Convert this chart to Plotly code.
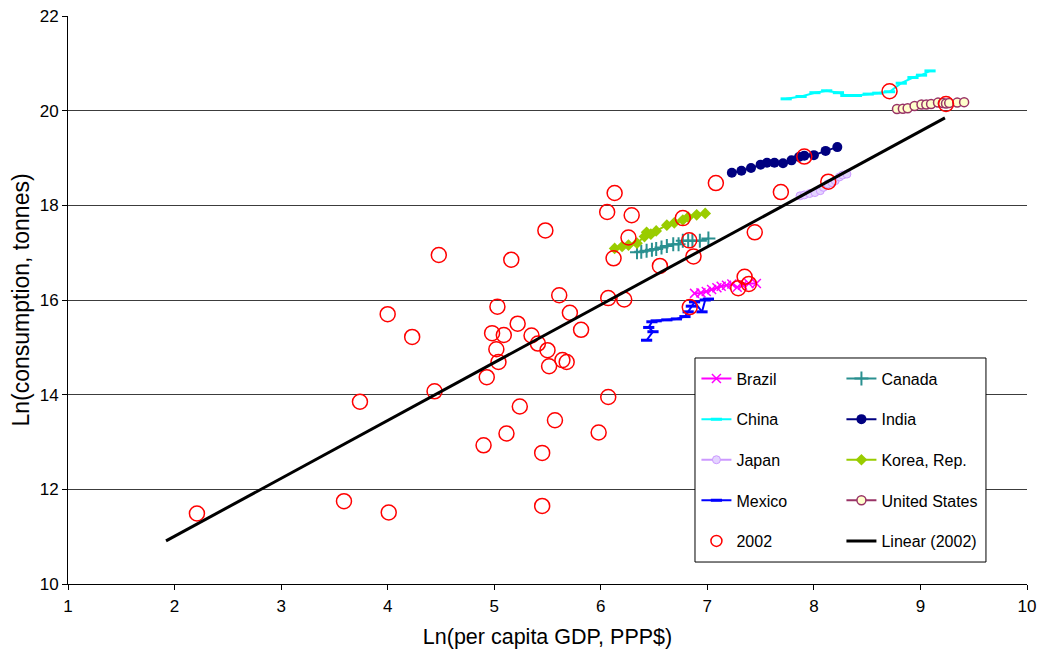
import numpy as np
import plotly.graph_objects as go

# ---- data: ln(per capita GDP, PPP$) vs ln(consumption, tonnes) ----
brazil_x = [6.88, 6.94, 6.99, 7.04, 7.09, 7.13, 7.18, 7.23, 7.28, 7.33, 7.39, 7.46]
brazil_y = [16.14, 16.15, 16.18, 16.22, 16.26, 16.29, 16.31, 16.34, 16.27, 16.31, 16.35, 16.35]

canada_x = [6.34, 6.38, 6.43, 6.48, 6.52, 6.57, 6.62, 6.68, 6.73, 6.77, 6.82, 6.86, 6.93, 7.01]
canada_y = [17.01, 17.02, 17.04, 17.06, 17.08, 17.11, 17.14, 17.18, 17.18, 17.25, 17.25, 17.25, 17.25, 17.30]

china_x = [7.74, 7.88, 8.01, 8.12, 8.23, 8.30, 8.40, 8.51, 8.60, 8.71, 8.82, 8.93, 9.01, 9.09]
china_y = [20.25, 20.30, 20.38, 20.42, 20.38, 20.32, 20.32, 20.35, 20.37, 20.40, 20.58, 20.70, 20.75, 20.84]

india_x = [7.23, 7.32, 7.41, 7.50, 7.56, 7.63, 7.71, 7.79, 7.86, 7.91, 8.00, 8.11, 8.22]
india_y = [18.69, 18.73, 18.79, 18.86, 18.90, 18.90, 18.89, 18.95, 19.02, 19.05, 19.06, 19.15, 19.23]

japan_x = [7.87, 7.91, 7.96, 8.01, 8.06, 8.09, 8.13, 8.17, 8.20, 8.24, 8.27, 8.31]
japan_y = [18.20, 18.22, 18.25, 18.27, 18.31, 18.38, 18.45, 18.48, 18.52, 18.60, 18.64, 18.66]

korea_x = [6.13, 6.20, 6.26, 6.34, 6.41, 6.43, 6.47, 6.52, 6.62, 6.69, 6.77, 6.82, 6.90, 6.98]
korea_y = [17.09, 17.13, 17.16, 17.20, 17.34, 17.43, 17.39, 17.46, 17.58, 17.63, 17.69, 17.75, 17.80, 17.83]

mexico_x = [6.43, 6.49, 6.45, 6.48, 6.52, 6.62, 6.71, 6.79, 6.82, 6.85, 6.88, 6.95, 6.98, 7.01]
mexico_y = [15.15, 15.33, 15.42, 15.54, 15.56, 15.58, 15.60, 15.65, 15.75, 15.87, 15.96, 15.75, 16.00, 16.02]

us_x = [8.78, 8.835, 8.88, 8.945, 9.01, 9.055, 9.10, 9.165, 9.21, 9.24, 9.27, 9.345, 9.41]
us_y = [20.035, 20.04, 20.05, 20.10, 20.13, 20.13, 20.14, 20.17, 20.16, 20.15, 20.16, 20.17, 20.18]

y2002_x = [2.21, 3.59, 3.74, 4.00, 4.01, 4.23, 4.44, 4.48, 4.90, 4.93, 4.98, 5.03, 5.02, 5.04,
           5.09, 5.115, 5.16, 5.22, 5.24, 5.35, 5.41, 5.45, 5.45, 5.48, 5.50, 5.515, 5.57, 5.61,
           5.64, 5.68, 5.71, 5.815, 5.98, 6.06, 6.07, 6.07, 6.12, 6.13, 6.22, 6.26, 6.29, 6.555,
           6.77, 6.83, 6.835, 6.87, 7.08, 7.29, 7.35, 7.39, 7.445, 7.69, 7.91, 8.135, 8.71, 9.24]
y2002_y = [11.49, 11.75, 13.85, 15.70, 11.51, 15.22, 14.07, 16.95, 12.93, 14.37, 15.30, 15.86,
           14.96, 14.69, 15.26, 13.18, 16.85, 15.50, 13.75, 15.25, 15.08, 12.77, 11.65, 17.47,
           14.94, 14.60, 13.46, 16.10, 14.73, 14.69, 15.73, 15.37, 13.20, 17.86, 16.04, 13.95,
           16.88, 18.26, 16.01, 17.32, 17.79, 16.72, 17.73, 17.26, 15.85, 16.92, 18.47, 16.25,
           16.49, 16.34, 17.43, 18.28, 19.03, 18.50, 20.41, 20.14]

# linear trendline of the 2002 cross-section
trend_slope = 1.2226
trend_intercept = 8.564
trend_x = [1.92, 9.23]

FONT = "Liberation Sans, Arial, sans-serif"

fig = go.Figure()


def series(name, xs, ys, color, symbol, size, legend, fill=None, mline=None, mlw=0, lw=2):
    fig.add_trace(go.Scatter(
        x=xs, y=ys, name=name, mode="lines+markers",
        line=dict(color=color, width=lw),
        marker=dict(symbol=symbol, size=size, color=fill if fill else color,
                    line=dict(color=mline if mline else color, width=mlw)),
        legend=legend, legendgroup=name,
    ))


series("Brazil", brazil_x, brazil_y, "#FF00FF", "x-thin-open", 9, "legend", mlw=1.5)
series("Canada", canada_x, canada_y, "#2A9090", "cross-thin-open", 10, "legend2", mlw=2)
series("China", china_x, china_y, "#00FFFF", "line-ew-open", 8, "legend", mlw=3, lw=2)
series("India", india_x, india_y, "#000080", "circle", 10, "legend2")
series("Japan", japan_x, japan_y, "#CC99FF", "circle", 8, "legend",
       fill="#E4D4FF", mline="#CC99FF", mlw=1)
series("Korea, Rep.", korea_x, korea_y, "#99CC00", "diamond", 9, "legend2")
series("Mexico", mexico_x, mexico_y, "#0000FF", "line-ew-open", 8, "legend", mlw=3)
series("United States", us_x, us_y, "#993366", "circle", 9, "legend2",
       fill="#FFFFCC", mline="#993366", mlw=1.5)

# 2002 cross-section (plotted), plus a smaller legend key for it
fig.add_trace(go.Scatter(
    x=y2002_x, y=y2002_y, name="2002", mode="markers",
    marker=dict(symbol="circle-open", size=15, color="#FF0000", line=dict(width=1.5)),
    legend="legend", legendgroup="2002", showlegend=False,
))
fig.add_trace(go.Scatter(
    x=[None], y=[None], name="2002", mode="markers",
    marker=dict(symbol="circle-open", size=11, color="#FF0000", line=dict(width=1.5)),
    legend="legend", legendgroup="2002",
))

tx = np.array(trend_x)
fig.add_trace(go.Scatter(
    x=tx, y=trend_slope * tx + trend_intercept, name="Linear (2002)", mode="lines",
    line=dict(color="#000000", width=3),
    legend="legend2", legendgroup="Linear (2002)",
))

legend_common = dict(
    bgcolor="rgba(0,0,0,0)", borderwidth=0, font=dict(family=FONT, size=16, color="#000000"),
    tracegroupgap=16.8, yanchor="top", xanchor="left", orientation="v",
)

fig.update_layout(
    width=1040, height=654,
    margin=dict(l=68, r=13, t=16, b=70, autoexpand=False),
    paper_bgcolor="#FFFFFF", plot_bgcolor="#FFFFFF",
    font=dict(family=FONT, size=16, color="#000000"),
    showlegend=True,
    legend=dict(x=0.6553, y=0.3915, **legend_common),
    legend2=dict(x=0.8065, y=0.3915, **legend_common),
    xaxis=dict(
        range=[1, 10], tick0=1, dtick=1, showgrid=False, zeroline=False, automargin=False,
        showline=True, linecolor="#000000", linewidth=1,
        ticks="outside", ticklen=5, tickcolor="#000000", ticklabelstandoff=2,
        tickfont=dict(family=FONT, size=17),
        title=dict(text="Ln(per capita GDP, PPP$)", font=dict(family=FONT, size=21.5), standoff=13),
    ),
    yaxis=dict(
        range=[10, 22], tick0=10, dtick=2, showgrid=True, gridcolor="#3C3C3C", gridwidth=1,
        zeroline=False, automargin=False, showline=True, linecolor="#000000", linewidth=1,
        ticks="outside", ticklen=5, tickcolor="#000000",
        tickfont=dict(family=FONT, size=17),
        title=dict(text="Ln(consumption, tonnes)", font=dict(family=FONT, size=23), standoff=3),
    ),
    shapes=[dict(
        type="rect", xref="paper", yref="paper",
        x0=0.6538, x1=0.9572, y0=0.0387, y1=0.3979,
        line=dict(color="#000000", width=1), fillcolor="#FFFFFF", layer="above",
    )],
)

fig.write_html("out.html")
